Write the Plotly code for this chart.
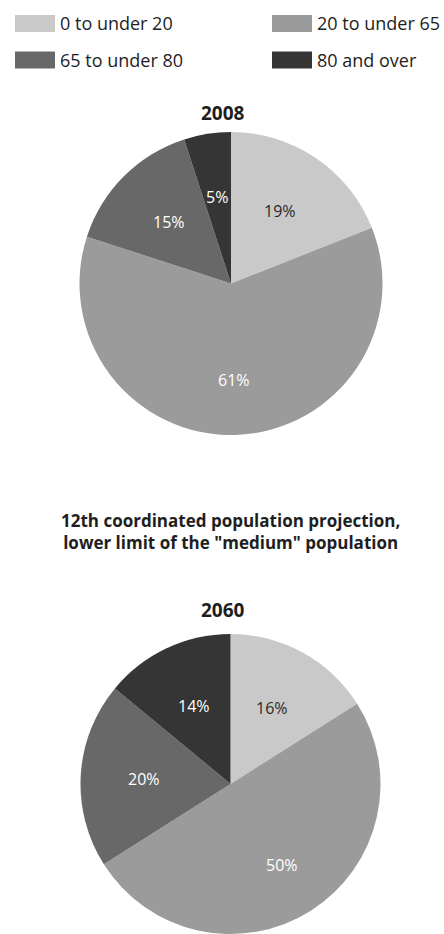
import math
import plotly.graph_objects as go

# Age groups and their population shares (%)
age_groups = ["0 to under 20", "20 to under 65", "65 to under 80", "80 and over"]
share_2008 = [19, 61, 15, 5]
share_2060 = [16, 50, 20, 14]

group_colors = ["#c9c9c9", "#9b9b9b", "#686868", "#353535"]
label_colors = ["#2a2a2a", "#ffffff", "#ffffff", "#ffffff"]

FONT = "Open Sans"
W, H = 444, 934


def py(px):
    """Convert a pixel row (from top) to paper y."""
    return 1 - px / H


def px_x(px):
    return px / W


def pie(values, x_dom, y_dom):
    return go.Pie(
        labels=age_groups,
        values=values,
        sort=False,
        direction="clockwise",
        rotation=0,
        marker=dict(colors=group_colors, line=dict(width=0)),
        textinfo="none",
        hoverinfo="label+percent",
        showlegend=False,
        domain=dict(x=x_dom, y=y_dom),
    )


def slice_labels(values, x_dom, y_dom):
    """Percent labels placed along each slice's mid-angle inside the pie."""
    cx = (x_dom[0] + x_dom[1]) / 2 * W
    cy = H - (y_dom[0] + y_dom[1]) / 2 * H
    r = min((x_dom[1] - x_dom[0]) * W, (y_dom[1] - y_dom[0]) * H) / 2
    total = sum(values)
    out = []
    start = 0.0
    for v, color in zip(values, label_colors):
        mid = (start + v / 2) / total * 2 * math.pi
        start += v
        dist = r * (0.64 if v / total >= 0.4 else 0.575)
        x = cx + dist * math.sin(mid)
        y = cy - dist * math.cos(mid)
        out.append(dict(text=f"{v}%", xref="paper", yref="paper",
                        x=px_x(x), y=py(y), xanchor="center", yanchor="middle",
                        showarrow=False,
                        font=dict(family=FONT, size=16, color=color)))
    return out


dom_2008 = ([79.5 / W, 382.5 / W], [499 / H, 802 / H])
dom_2060 = ([80.5 / W, 380.5 / W], [0, 300 / H])

fig = go.Figure()
fig.add_trace(pie(share_2008, *dom_2008))
fig.add_trace(pie(share_2060, *dom_2060))

annotations = [
    dict(text="<b>2008</b>", x=0.5 + 0.5 / W, y=py(113), font=dict(size=19)),
    dict(text="<b>12th coordinated population projection,<br>lower limit of the \"medium\" population</b>",
         x=0.52, y=py(531), font=dict(size=17)),
    dict(text="<b>2060</b>", x=0.5 + 0.5 / W, y=py(610), font=dict(size=19)),
]
for a in annotations:
    a.update(xref="paper", yref="paper", xanchor="center", yanchor="middle",
             showarrow=False)
    a["font"].update(family=FONT, color="#1e1e1e")

annotations += slice_labels(share_2008, *dom_2008)
annotations += slice_labels(share_2060, *dom_2060)

# Legend: two columns of swatches with labels
shapes = []
legend_pos = [(15, 23.5), (272, 23.5), (15, 60), (272, 60)]
for name, color, (x0, yc) in zip(age_groups, group_colors, legend_pos):
    shapes.append(dict(type="rect", xref="paper", yref="paper",
                       x0=px_x(x0), x1=px_x(x0 + 40),
                       y0=py(yc + 8.5), y1=py(yc - 8.5),
                       fillcolor=color, line=dict(width=0)))
    annotations.append(dict(text=name, xref="paper", yref="paper",
                            x=px_x(x0 + 43), y=py(yc), xanchor="left",
                            yanchor="middle", showarrow=False,
                            font=dict(family=FONT, size=18, color="#1e1e1e")))

fig.update_layout(
    width=W,
    height=H,
    margin=dict(l=0, r=0, t=0, b=0),
    paper_bgcolor="white",
    plot_bgcolor="white",
    annotations=annotations,
    shapes=shapes,
)

fig.write_html("out.html")
